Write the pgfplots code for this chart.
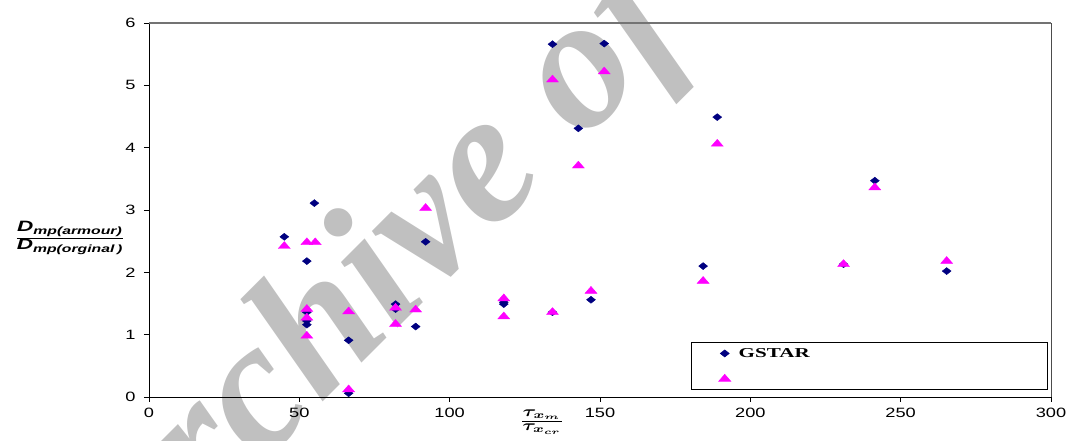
\documentclass[border=0pt]{standalone}
\usepackage{fontspec}
\setmainfont{Liberation Sans}
\newfontfamily\serifb{Liberation Serif}
\newfontfamily\widesans[FakeStretch=1.35]{Liberation Sans}
\newfontfamily\wideserif[FakeStretch=1.55]{Liberation Serif}
\usepackage{amsmath}
\usepackage{graphicx}
\usepackage{pgfplots}
\pgfplotsset{compat=1.18}
\definecolor{navy}{RGB}{0,0,128}
\definecolor{mag}{RGB}{255,0,255}
\definecolor{wm}{RGB}{192,192,192}
\newcommand{\yl}[1]{\scalebox{1.5}[1]{\fontsize{15}{17}\selectfont\bfseries\itshape D\textsubscript{mp(#1)}}}
\newcommand{\xl}[1]{\scalebox{2.1}[1.5]{$\boldsymbol{#1}$}}
\begin{document}
\begin{tikzpicture}[x=1pt,y=1pt]
\node[rotate=45, inner sep=0, text=wm, font=\fontsize{188}{188}\selectfont\serifb\bfseries\itshape] at (434,320) {\llap{Archive }o\rlap{f SID}};
\begin{axis}[name=ax, at={(0,0)}, anchor=south west, scale only axis,
  width=902pt, height=374pt,
  xmin=0, xmax=300, ymin=0, ymax=6,
  xtick={0,50,...,300}, ytick={0,1,...,6},
  axis x line*=bottom, axis y line*=left,
  tick align=outside, major tick length=5pt,
  tick style={black, line width=0.6pt},
  axis line style={black, line width=0.9pt},
  ticklabel style={font=\fontsize{13.5}{15}\selectfont\widesans},
  xticklabel style={yshift=-3pt},
  yticklabel style={xshift=-5pt},
  /pgf/number format/assume math mode=true,
  clip=false,
  xlabel={$\dfrac{\xl{\tau_{x_m}}}{\xl{\tau_{x_{cr}}}}$},
  xlabel style={at={(axis description cs:0.4357,0)}, anchor=north, yshift=-9pt},
  ylabel={$\dfrac{\yl{armour}}{\yl{orginal\,}}$},
  ylabel style={rotate=-90, at={(axis description cs:-0.0876,0.425)}, anchor=center},
  legend style={at={(axis description cs:0.9967,0.0187)}, anchor=south east,
    draw=black, line width=0.6pt, inner xsep=27pt, inner ysep=3.5pt, row sep=11pt,
    font=\fontsize{13.6}{16}\selectfont\wideserif\bfseries},
  legend cell align=left,
]
\addplot[only marks, color=navy, mark=diamond*, mark size=3.5pt, mark options={xscale=1.7, fill=navy, draw=navy}] coordinates {
(45,2.57) (52.5,2.18) (55,3.11) (52.5,1.36) (52.5,1.22) (52.5,1.16)
(66.4,0.91) (66.4,0.06) (82,1.49) (82,1.41) (88.7,1.13) (92,2.49)
(118,1.49) (118,1.52) (134.2,5.66) (134.2,1.36) (142.8,4.31) (147,1.56)
(151.4,5.67) (184.3,2.10) (189,4.49) (231,2.13) (241.4,3.47) (265.3,2.02)
};
\addlegendentry{\makebox[286pt][l]{\hspace{6pt}GSTAR\vphantom{Gg}}}
\addplot[only marks, color=mag, mark=triangle*, mark size=4.6pt, mark options={xscale=1.5, fill=mag, draw=mag}] coordinates {
(45,2.42) (52.5,2.48) (55.3,2.48) (52.5,1.41) (52.5,1.27) (52.5,0.98)
(66.4,1.37) (66.4,0.12) (82,1.43) (82,1.17) (88.7,1.40) (92,3.03)
(118,1.58) (118,1.29) (134.2,5.09) (134.2,1.36) (142.8,3.71) (147,1.70)
(151.4,5.22) (184.3,1.86) (189,4.06) (231,2.13) (241.4,3.36) (265.3,2.18)
};
\addlegendentry{\makebox[286pt][l]{\vphantom{Gg}}}
\draw[black!55, line width=1.4pt] (rel axis cs:0,1) -- (rel axis cs:1,1);
\draw[black!70, line width=0.6pt] (rel axis cs:1,1) -- (rel axis cs:1,0);
\end{axis}
\pgfresetboundingbox
\useasboundingbox (-149,-44) rectangle (920,397);
\end{tikzpicture}
\end{document}
